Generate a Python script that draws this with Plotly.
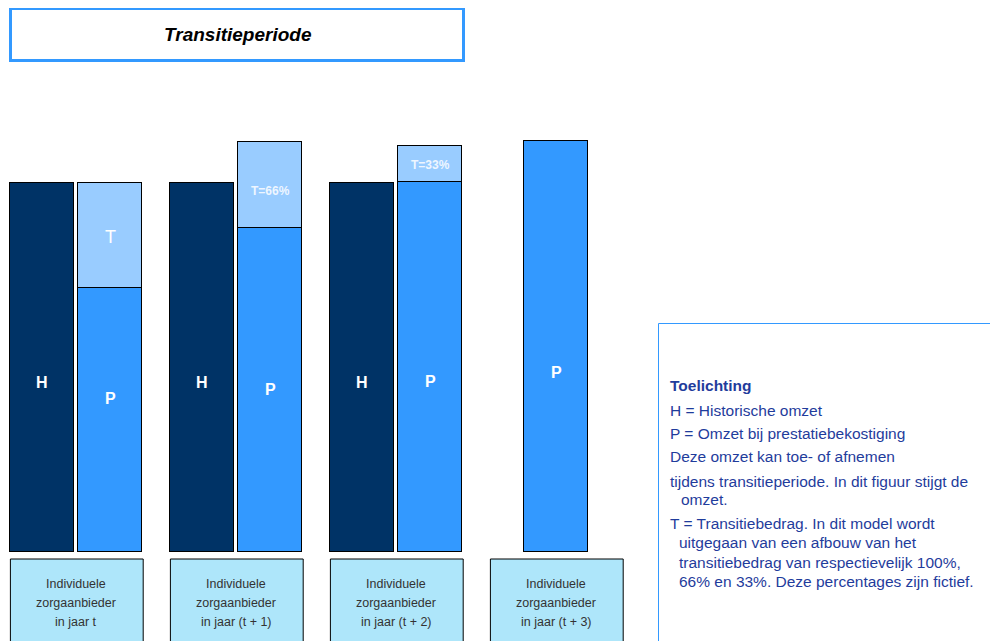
import plotly.graph_objects as go

# ---------------- data ----------------
groups = ["Individuele<br>zorgaanbieder<br>in jaar t",
          "Individuele<br>zorgaanbieder<br>in jaar (t + 1)",
          "Individuele<br>zorgaanbieder<br>in jaar (t + 2)",
          "Individuele<br>zorgaanbieder<br>in jaar (t + 3)"]
historisch = [100, 100, 100]            # H, groups 0-2
prestatie = [71.5, 87.8, 100.3, 111.4]  # P, groups 0-3
transitie = [28.5, 23.3, 9.8]           # T, groups 0-2
h_labels = ["H", "H", "H"]
p_labels = ["P", "P", "P", "P"]
t_labels = ["T", "T=66%", "T=33%"]
legend_lines = ["<b>Toelichting</b>",
                "H = Historische omzet",
                "P = Omzet bij prestatiebekostiging",
                "Deze omzet kan toe- of afnemen",
                "tijdens transitieperiode. In dit figuur stijgt de",
                "omzet.",
                "T = Transitiebedrag. In dit model wordt",
                "uitgegaan van een afbouw van het",
                "transitiebedrag van respectievelijk 100%,",
                "66% en 33%. Deze percentages zijn fictief."]
title_text = "Transitieperiode"

# ---------------- layout constants ----------------
PAGE_W, PAGE_H = 998, 641
OFF_PX = 8                       # browser body margin
W, H_ = PAGE_W - OFF_PX, PAGE_H - OFF_PX
base_px, unit_px = 552, 3.69
gx0_px, gstep_px = 76, 160
OFF, BW = 0.2125, 0.406
C_H, C_P, C_T, C_BOX = "#003366", "#3399FF", "#99CCFF", "#AEE6FA"
FONT = "Liberation Sans, Arial, sans-serif"


def py(p):  # page pixel y -> paper
    return 1 - (p - OFF_PX) / H_


def px(p):  # page pixel x -> paper
    return (p - OFF_PX) / W


def vy(p):  # page pixel y -> data value
    return (base_px - p) / unit_px


x_h = [g - OFF for g in range(len(historisch))]
x_p = [g + OFF if g < len(historisch) else g for g in range(len(prestatie))]
x_t = [g + OFF for g in range(len(transitie))]

line = dict(color="black", width=1.5)
fig = go.Figure()
fig.add_bar(x=x_h, y=historisch, width=BW, marker=dict(color=C_H, line=line), hoverinfo="skip")
fig.add_bar(x=x_p, y=prestatie, width=BW, marker=dict(color=C_P, line=line), hoverinfo="skip")
fig.add_bar(x=x_t, y=transitie, width=BW, marker=dict(color=C_T, line=line), hoverinfo="skip")

ann = []
# bar labels
h_label_px = [382, 382, 382]
p_label_px = [398, 389, 381, 372]
t_label_px = [237, 191, 165]
for x, t, p in zip(x_h, h_labels, h_label_px):
    ann.append(dict(x=x, y=vy(p), text="<b>" + t + "</b>", showarrow=False,
                    font=dict(color="white", size=16, family=FONT)))
for x, t, p in zip(x_p, p_labels, p_label_px):
    ann.append(dict(x=x, y=vy(p), text="<b>" + t + "</b>", showarrow=False,
                    font=dict(color="white", size=16, family=FONT)))
for i, (x, t, p) in enumerate(zip(x_t, t_labels, t_label_px)):
    if i == 0:
        ann.append(dict(x=x, y=vy(p), text=t, showarrow=False,
                        font=dict(color="white", size=18, family=FONT)))
    else:
        ann.append(dict(x=x, y=vy(p), text="<b>" + t + "</b>", showarrow=False,
                        font=dict(color="#EEF6FF", size=12, family=FONT)))

shapes = []
# category boxes under the bars
for g, lab in enumerate(groups):
    shapes.append(dict(type="rect", xref="x", yref="y", x0=g - 0.41, x1=g + 0.42,
                       y0=vy(700), y1=vy(559), fillcolor=C_BOX,
                       line=dict(color="black", width=1), layer="below"))
    for txt, ypx in zip(lab.split("<br>"), [584, 603, 622]):
        ann.append(dict(x=g, y=vy(ypx), text=txt, showarrow=False,
                        font=dict(color="#333333", size=12.5, family=FONT)))

# title box
shapes.append(dict(type="rect", xref="paper", yref="paper", x0=px(10.5), x1=px(463.5),
                   y0=py(60.5), y1=py(8.5), line=dict(color="#3399FF", width=3),
                   fillcolor="white"))
ann.append(dict(xref="paper", yref="paper", x=px(238), y=py(35), xanchor="center", yanchor="middle",
                text="<b><i>" + title_text + "</i></b>",
                showarrow=False, font=dict(color="black", size=19, family=FONT)))

# legend box (left & top border)
shapes.append(dict(type="line", xref="paper", yref="paper", x0=px(658.5), x1=px(658.5),
                   y0=py(660), y1=py(323.5), line=dict(color="#3399FF", width=1)))
shapes.append(dict(type="line", xref="paper", yref="paper", x0=px(658.5), x1=px(1010),
                   y0=py(323.5), y1=py(323.5), line=dict(color="#3399FF", width=1)))
leg_y = [386, 410, 433, 456, 481, 499, 523, 542, 562, 581]
leg_x = [668, 668, 668, 668, 668, 679, 668, 677, 677, 677]
for txt, yy, xx in zip(legend_lines, leg_y, leg_x):
    ann.append(dict(xref="paper", yref="paper", x=px(xx), y=py(yy), text=txt,
                    xanchor="left", yanchor="middle", showarrow=False,
                    font=dict(color="#1F3C9C", size=15.5, family=FONT)))

fig.update_layout(
    width=W, height=H_, margin=dict(l=0, r=0, t=0, b=0),
    paper_bgcolor="white", plot_bgcolor="white",
    barmode="stack", bargap=0, showlegend=False,
    xaxis=dict(range=[-(gx0_px - OFF_PX) / gstep_px, (PAGE_W - gx0_px) / gstep_px],
               visible=False, fixedrange=True),
    yaxis=dict(range=[vy(PAGE_H), vy(OFF_PX)], visible=False, fixedrange=True),
    annotations=ann, shapes=shapes,
)
fig.write_html("out.html")
